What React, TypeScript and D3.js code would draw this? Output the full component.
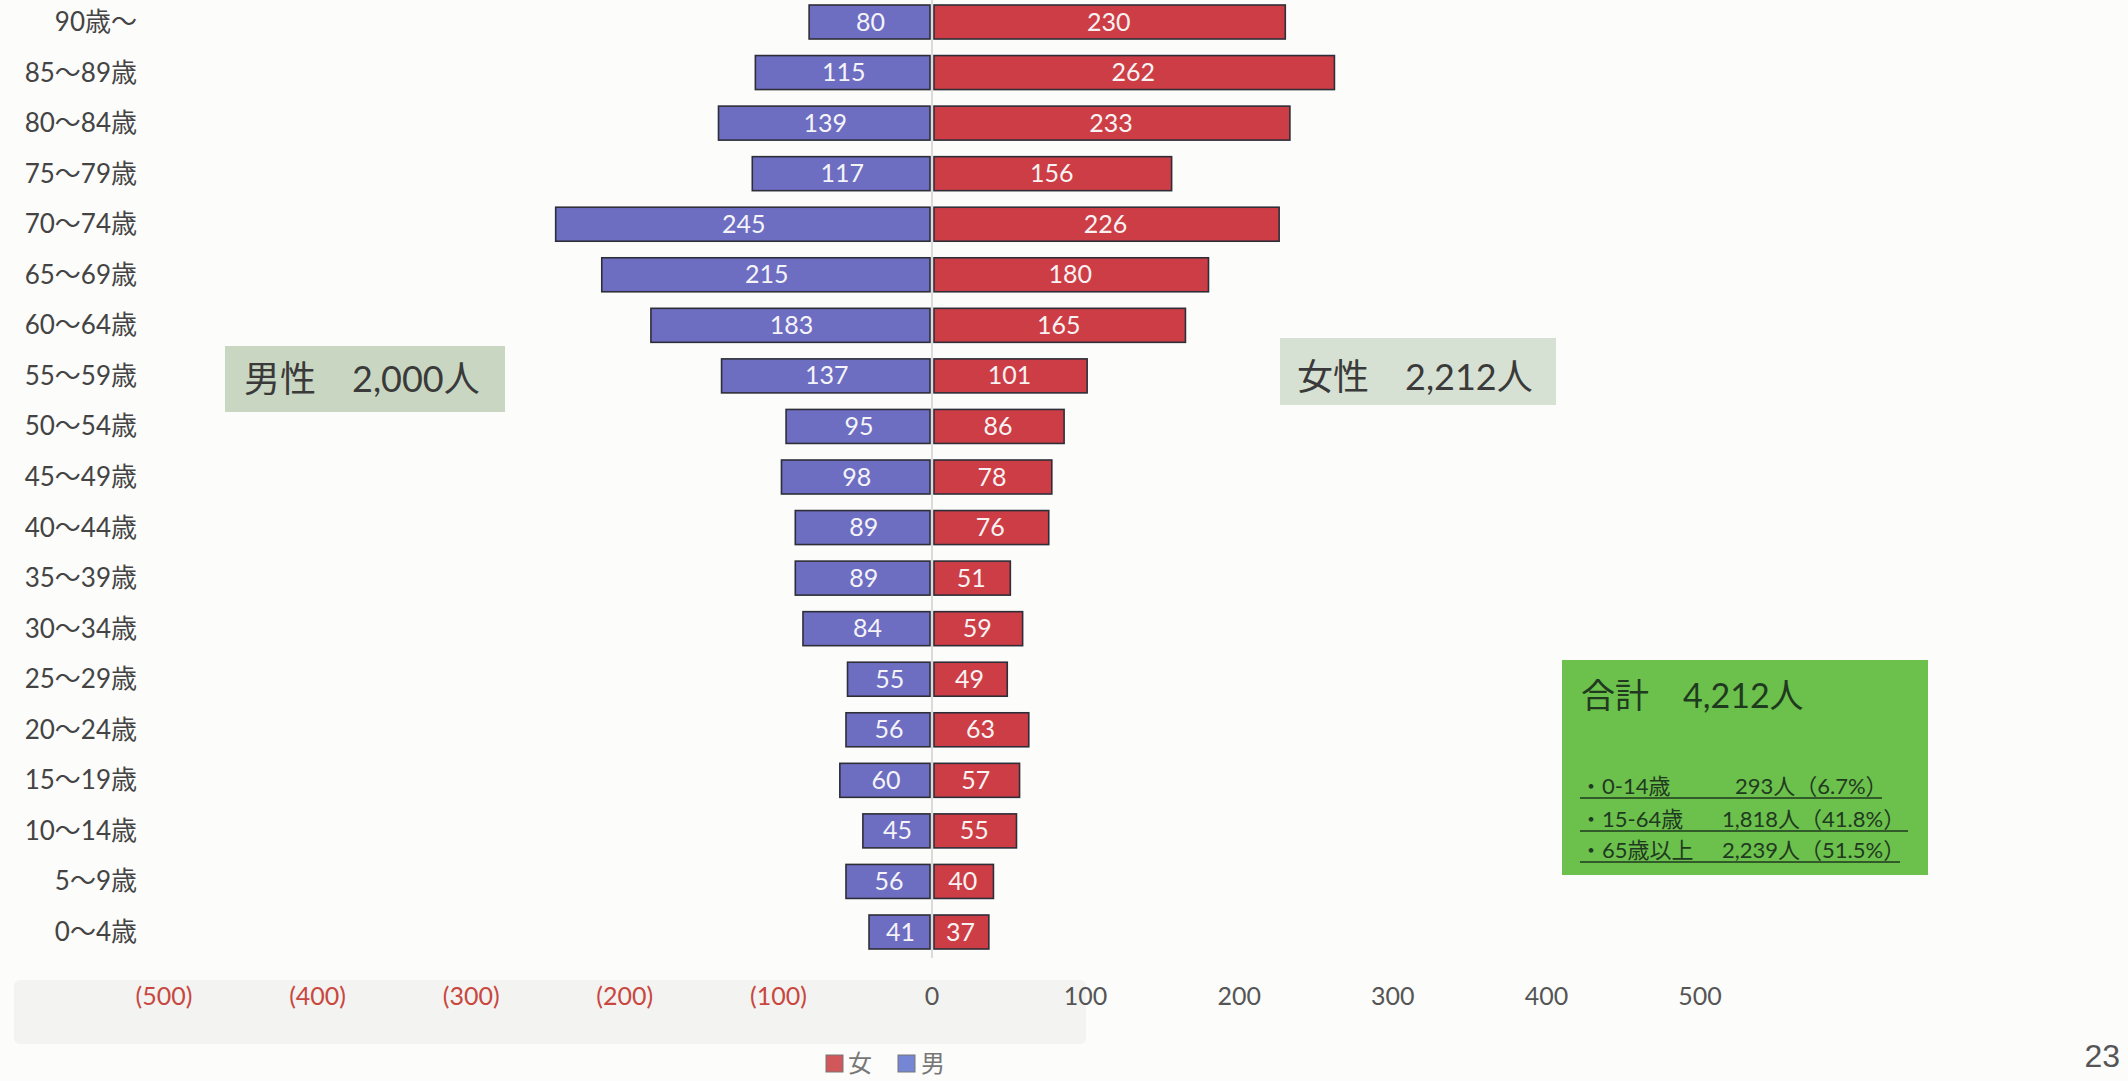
import React from "react";
import * as d3 from "d3";

const ageGroups = [
  "90歳～", "85～89歳", "80～84歳", "75～79歳", "70～74歳", "65～69歳", "60～64歳",
  "55～59歳", "50～54歳", "45～49歳", "40～44歳", "35～39歳", "30～34歳", "25～29歳",
  "20～24歳", "15～19歳", "10～14歳", "5～9歳", "0～4歳",
];
const maleValues = [80, 115, 139, 117, 245, 215, 183, 137, 95, 98, 89, 89, 84, 55, 56, 60, 45, 56, 41];
const femaleValues = [230, 262, 233, 156, 226, 180, 165, 101, 86, 78, 76, 51, 59, 49, 63, 57, 55, 40, 37];
const tickValues = [-500, -400, -300, -200, -100, 0, 100, 200, 300, 400, 500];
const maleTotalLabel = "男性　2,000人";
const femaleTotalLabel = "女性　2,212人";
const grandTotalLabel = "合計　4,212人";
const summaryLabels = ["・0-14歳", "・15-64歳", "・65歳以上"];
const summaryValues = ["293人（6.7%）", "1,818人（41.8%）", "2,239人（51.5%）"];
const legendLabels = ["女", "男"];
const pageNumber = "23";

const W = 2128;
const H = 1081;
const FONT = "Lato, 'Noto Sans CJK JP', sans-serif";
const MALE = "#6d6dc2";
const FEMALE = "#cd3d46";
const EDGE = "#2e2e38";

export default function App() {
  const x = d3.scaleLinear().domain([-500, 500]).range([164, 1700]);
  const y = d3.scalePoint<string>().domain(ageGroups).range([22, 932]);
  const barH = 34;
  const x0 = x(0);
  const fmt = (v: number) => (v < 0 ? `(${Math.abs(v)})` : `${v}`);

  const summaryX = [1735, 1722, 1722];
  const summaryY = [794, 827, 858];

  return (
    <svg
      width={W}
      height={H}
      style={{ position: "absolute", left: 0, top: 0, background: "#fcfcfb" }}
      fontFamily={FONT}
    >
      <rect x={0} y={0} width={W} height={H} fill="#fcfcfb" />
      {/* faint band behind axis */}
      <rect x={14} y={980} width={1072} height={64} rx={6} fill="#f3f3f1" />

      {/* center line */}
      <line x1={x0} x2={x0} y1={0} y2={958} stroke="#cfcfcf" strokeWidth={1.5} />

      {/* category labels */}
      {ageGroups.map((g) => (
        <text
          key={g}
          x={137}
          y={(y(g) as number) + 9}
          textAnchor="end"
          fontSize={26}
          fill="#444"
        >
          {g}
        </text>
      ))}

      {/* bars */}
      {ageGroups.map((g, i) => {
        const cy = y(g) as number;
        const m = maleValues[i];
        const f = femaleValues[i];
        const mx = x(-m);
        const fx = x(f);
        return (
          <g key={"b" + g}>
            <rect
              x={mx}
              y={cy - barH / 2}
              width={x0 - 2 - mx}
              height={barH}
              fill={MALE}
              stroke={EDGE}
              strokeWidth={1.6}
            />
            <rect
              x={x0 + 2}
              y={cy - barH / 2}
              width={fx - x0 - 2}
              height={barH}
              fill={FEMALE}
              stroke={EDGE}
              strokeWidth={1.6}
            />
            <text
              x={(mx + x0) / 2}
              y={cy + 8.5}
              textAnchor="middle"
              fontSize={25}
              fill="#f4f4f8"
            >
              {m}
            </text>
            <text
              x={(fx + x0) / 2}
              y={cy + 8.5}
              textAnchor="middle"
              fontSize={25}
              fill="#f8f2f2"
            >
              {f}
            </text>
          </g>
        );
      })}

      {/* axis tick labels */}
      {tickValues.map((t) => (
        <text
          key={"t" + t}
          x={x(t)}
          y={1005}
          textAnchor="middle"
          fontSize={25}
          fill={t < 0 ? "#c9473f" : "#555"}
        >
          {fmt(t)}
        </text>
      ))}

      {/* male total box */}
      <rect x={225} y={346} width={280} height={66} fill="#c9d7c2" />
      <text x={244} y={392} fontSize={36} fill="#3a3a3a">
        {maleTotalLabel}
      </text>

      {/* female total box */}
      <rect x={1280} y={338} width={276} height={67} fill="#d7e1d3" />
      <text x={1297} y={390} fontSize={36} fill="#3a3a3a">
        {femaleTotalLabel}
      </text>

      {/* grand total box */}
      <rect x={1562} y={660} width={366} height={215} fill="#6cc04c" />
      <text x={1581} y={708} fontSize={34} fill="#1f3a1f">
        {grandTotalLabel}
      </text>
      {summaryLabels.map((l, i) => (
        <g key={l}>
          <text x={1580} y={summaryY[i]} fontSize={22} fill="#1f3a1f">
            {l}
          </text>
          <text x={summaryX[i]} y={summaryY[i]} fontSize={22} fill="#1f3a1f">
            {summaryValues[i]}
          </text>
        </g>
      ))}
      {summaryValues.map((v, i) => (
        <line
          key={"u" + i}
          x1={1580}
          x2={[1882, 1908, 1900][i]}
          y1={summaryY[i] + 4}
          y2={summaryY[i] + 4}
          stroke="#1f3a1f"
          strokeWidth={1.5}
        />
      ))}

      {/* legend */}
      <rect x={826} y={1055} width={17} height={17} fill="#d0585a" stroke="#777" strokeWidth={1} />
      <text x={848} y={1072} fontSize={24} fill="#777">
        {legendLabels[0]}
      </text>
      <rect x={898} y={1055} width={17} height={17} fill="#7587d4" stroke="#777" strokeWidth={1} />
      <text x={921} y={1072} fontSize={24} fill="#777">
        {legendLabels[1]}
      </text>

      {/* page number */}
      <text x={2120} y={1067} textAnchor="end" fontSize={32} fill="#555" fontFamily="'Liberation Sans Narrow', 'Liberation Sans', sans-serif">
        {pageNumber}
      </text>
    </svg>
  );
}
